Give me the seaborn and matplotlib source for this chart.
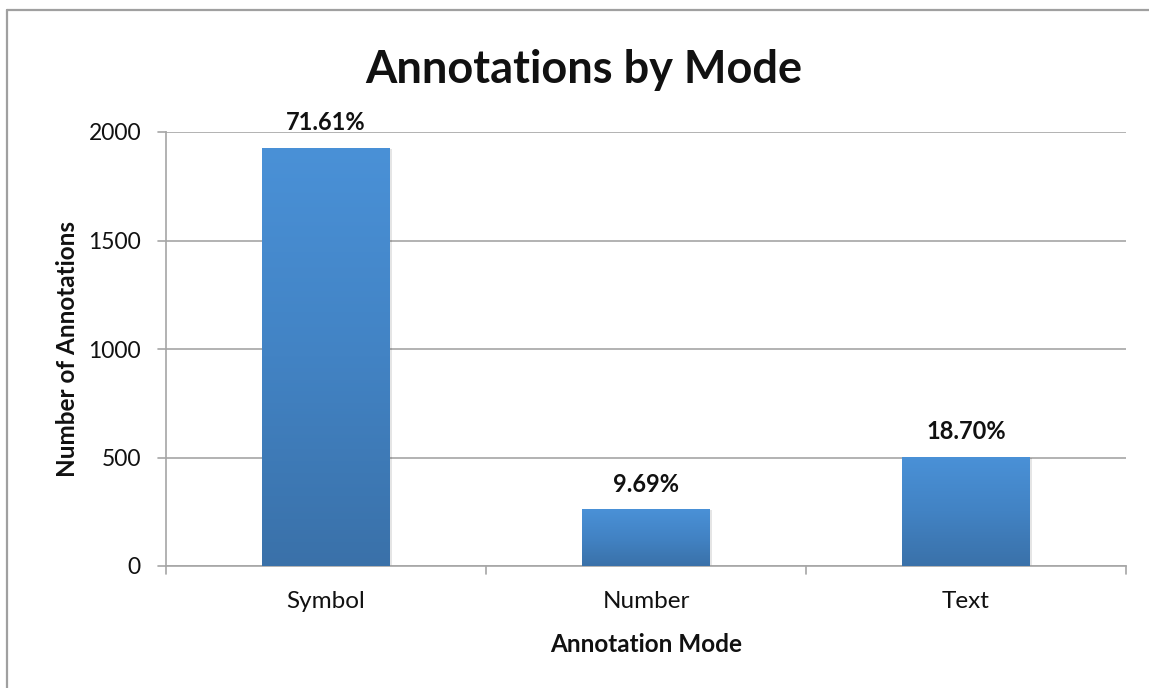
import numpy as np
import pandas as pd
import matplotlib
matplotlib.use("Agg")
import matplotlib.pyplot as plt
from matplotlib.colors import LinearSegmentedColormap
from matplotlib.lines import Line2D
import seaborn as sns

# Annotation counts by mode, expressed as shares of the total
modes = ["Symbol", "Number", "Text"]
shares_pct = [71.61, 9.69, 18.70]
total_annotations = 2690
y_ticks = [0, 500, 1000, 1500, 2000]

counts = [p / 100 * total_annotations for p in shares_pct]
df = pd.DataFrame({"mode": modes, "count": counts})

sns.set_theme(style="white")
plt.rcParams["font.family"] = ["Lato", "DejaVu Sans"]

fig = plt.figure(figsize=(11.49, 6.88), dpi=100)
ax = fig.add_axes([166 / 1149, 1 - 566 / 688, (1126 - 166) / 1149, (566 - 132) / 688])

grid_col = "#A6A6A6"
sns.barplot(data=df, x="mode", y="count", ax=ax, width=0.40,
            color="#4A8FD4", edgecolor="none", zorder=3)

# vertical gradient fill for each bar, clipped to the bar shape
cmap = LinearSegmentedColormap.from_list("bar", ["#3A71A9", "#4283C4", "#4A91D7"])
grad = np.linspace(0, 1, 256).reshape(-1, 1)
for patch in ax.patches:
    x0, y0 = patch.get_x(), patch.get_y()
    w, h = patch.get_width(), patch.get_height()
    # soft shadow to the right
    ax.add_patch(plt.Rectangle((x0 + 0.006, y0), w, h - 4, facecolor="#000000",
                               alpha=0.10, edgecolor="none", zorder=2.5))
    im = ax.imshow(grad, extent=(x0, x0 + w, y0, y0 + h), origin="lower",
                   cmap=cmap, aspect="auto", zorder=3.5)
    im.set_clip_path(patch)

ax.set_xlim(-0.5, 2.5)
ax.set_ylim(0, 2000)
ax.set_yticks(y_ticks)
ax.set_yticklabels([str(t) for t in y_ticks], fontsize=16.5, color="#111111")
ax.set_xticks([0, 1, 2])
ax.set_xticklabels(modes, fontsize=17.5, color="#111111")
ax.tick_params(axis="x", length=0, pad=18)
ax.tick_params(axis="y", length=0, pad=18)

# y gridlines and tick marks in Excel style
ax.yaxis.grid(True, color=grid_col, linewidth=1.2, zorder=0)
ax.xaxis.grid(False)
for t in y_ticks:
    ax.plot([-0.525, -0.5], [t, t], color=grid_col, lw=1.2, clip_on=False, zorder=1)
for b in [-0.5, 0.5, 1.5, 2.5]:
    ax.plot([b, b], [0, -38], color=grid_col, lw=1.2, clip_on=False, zorder=1)

for side in ["top", "right"]:
    ax.spines[side].set_visible(False)
for side in ["left", "bottom"]:
    ax.spines[side].set_color(grid_col)
    ax.spines[side].set_linewidth(1.2)

for patch, p in zip(ax.patches[:3], shares_pct):
    ax.annotate(f"{p:.2f}%", (patch.get_x() + patch.get_width() / 2, patch.get_height()),
                xytext=(0, 10), textcoords="offset points", ha="center", va="bottom",
                fontsize=17, fontweight="bold", color="#111111")

ax.set_xlabel("Annotation Mode", fontsize=17.5, fontweight="bold", labelpad=15, color="#111111")
ax.set_ylabel("Number of Annotations", fontsize=17.5, fontweight="bold", labelpad=7, color="#111111")

fig.text(584 / 1149, 1 - 70 / 688, "Annotations by Mode", ha="center", va="center",
         fontsize=32.5, fontweight="bold", color="#111111")

# chart area border
fig.add_artist(Line2D([7 / 1149, 1.0], [1 - 10 / 688, 1 - 10 / 688],
                      transform=fig.transFigure, color="#A0A0A0", lw=1.6))
fig.add_artist(Line2D([7 / 1149, 7 / 1149], [0, 1 - 10 / 688],
                      transform=fig.transFigure, color="#A0A0A0", lw=1.6))

fig.savefig("out.png", dpi=100)
